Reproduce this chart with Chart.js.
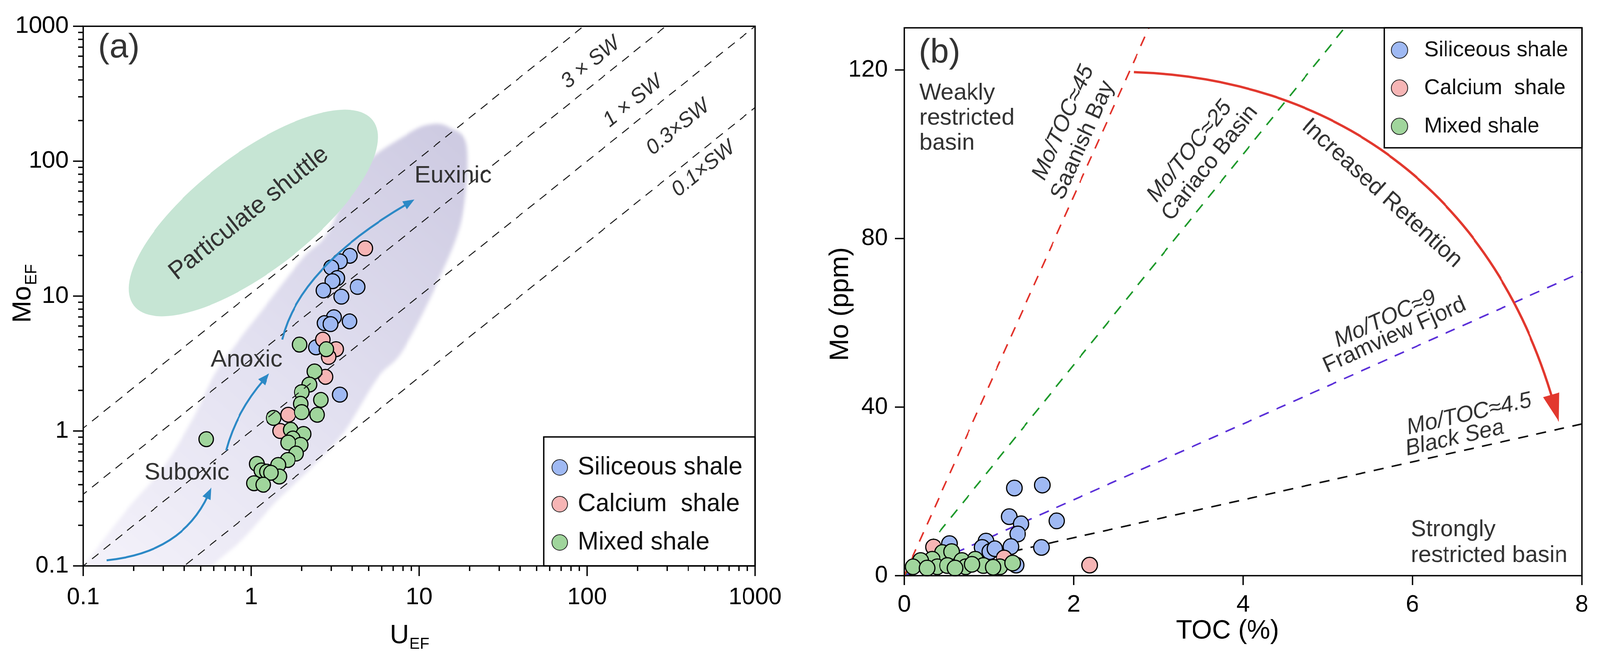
<!DOCTYPE html>
<html>
<head>
<meta charset="utf-8">
<script src="https://cdn.jsdelivr.net/npm/chart.js@4.4.1/dist/chart.umd.min.js"></script>
<style>
  html, body { margin: 0; padding: 0; background: #fff; overflow: hidden; }
  #page { position: absolute; left: 0; top: 0; width: 4153px; height: 1699px; transform-origin: 0 0; }
  canvas { position: absolute; top: 0; }
  #chartA { left: 0; }
  #chartB { left: 2076px; }
</style>
</head>
<body>
<div id="page">
<canvas id="chartA" width="2076" height="1699"></canvas>
<canvas id="chartB" width="2077" height="1699"></canvas>
</div>
<script>
// fit the 4153x1699 figure into whatever viewport we get
const page = document.getElementById('page');
page.style.transform = 'scale(' + (window.innerWidth / 4153) + ',' + (window.innerHeight / 1699) + ')';

// ---------- data: panel (a) U_EF vs Mo_EF ----------
const uefSiliceous = [3.87, 3.37, 3.0, 3.25, 3.05, 2.69, 3.44, 4.3, 3.11, 2.73, 2.97, 3.85, 2.43, 3.37];
const moefSiliceous = [19.9, 18.1, 16.3, 13.6, 12.9, 11.0, 9.9, 11.7, 6.97, 6.3, 6.2, 6.5, 4.17, 1.86];
const uefCalcium = [4.77, 2.67, 3.2, 2.89, 2.77, 1.66, 1.49];
const moefCalcium = [22.6, 4.76, 4.04, 3.54, 2.52, 1.32, 1.0];
const uefMixed = [1.94, 2.80, 2.38, 2.22, 2.0, 2.60, 1.97, 2.0, 2.47, 1.36, 1.72, 2.05, 1.77, 1.97, 1.66, 1.85, 1.65, 1.45, 1.47, 1.08, 1.15, 1.24, 1.31, 1.04, 1.18, 0.54];
const moefMixed = [4.37, 4.04, 2.76, 2.21, 1.94, 1.70, 1.59, 1.38, 1.32, 1.25, 1.02, 0.95, 0.88, 0.79, 0.82, 0.68, 0.61, 0.56, 0.46, 0.57, 0.51, 0.50, 0.49, 0.41, 0.40, 0.87];

// seawater Mo/U reference lines (Mo_EF = ratio * U_EF)
const swLabels = ['3 \u00d7 SW', '1 \u00d7 SW', '0.3\u00d7SW', '0.1\u00d7SW'];
const swRatios = [10.5, 3.4, 1.0, 0.25];

// ---------- data: panel (b) TOC vs Mo ----------
const tocSiliceous = [1.30, 1.63, 1.24, 1.38, 1.80, 1.34, 1.26, 1.62, 0.535, 0.965, 0.92, 1.01, 1.07, 1.32];
const moSiliceous = [20.8, 21.5, 14.0, 12.3, 13.0, 9.9, 6.9, 6.7, 7.6, 8.2, 6.7, 5.7, 6.4, 2.5];
const tocCalcium = [0.345, 1.18, 2.19];
const moCalcium = [6.8, 4.2, 2.5];
const tocMixed = [0.45, 0.56, 0.33, 0.195, 0.104, 0.39, 0.51, 0.68, 0.725, 0.84, 0.935, 1.13, 1.28, 0.27, 0.80, 0.60, 1.05];
const moMixed = [5.5, 5.7, 3.9, 3.6, 2.1, 2.1, 2.4, 3.6, 2.1, 3.9, 2.4, 2.1, 3.0, 1.8, 2.7, 1.8, 2.0];

// Mo/TOC reference lines
const tocLineNames = ['Saanish Bay', 'Cariaco Basin', 'Framview Fjord', 'Black Sea'];
const tocRatios = [45, 25, 9, 4.5];
const tocLineColors = ['#e2332b', '#1f9a2c', '#5a2fd8', '#111111'];

// ---------- ticks ----------
const decadeTicks = [0.1, 1, 10, 100, 1000];
const minorTicks = decadeTicks.slice(0, -1).flatMap(d => [2, 3, 4, 5, 6, 7, 8, 9].map(k => k * d));
const tocTicks = [0, 2, 4, 6, 8];
const moTicks = [0, 40, 80, 120];

const seriesNames = ['Siliceous shale', 'Calcium  shale', 'Mixed shale'];
const seriesColors = ['#9fb9f3', '#f6b5b5', '#a0d59c'];

const FONT = "'Liberation Sans', Arial, sans-serif";
Chart.defaults.font.family = FONT;
Chart.defaults.color = '#000';
Chart.defaults.animation = false;

const toPoints = (xs, ys) => xs.map((x, i) => ({ x: x, y: ys[i] }));

function pointSet(xs, ys, idx, radius, order) {
    return {
        label: seriesNames[idx],
        data: toPoints(xs, ys),
        backgroundColor: seriesColors[idx],
        borderColor: '#000',
        borderWidth: 3,
        pointRadius: radius,
        pointHoverRadius: radius,
        clip: false,
        order: order
    };
}

// Helper: pixel position of a data point
function px(chart, x, y) {
    return [chart.scales.x.getPixelForValue(x), chart.scales.y.getPixelForValue(y)];
}

function drawText(ctx, str, x, y, size, opts = {}) {
    ctx.save();
    ctx.translate(x, y);
    if (opts.angle) ctx.rotate(opts.angle * Math.PI / 180);
    ctx.font = (opts.italic ? 'italic ' : '') + size + 'px ' + FONT;
    ctx.fillStyle = opts.color || '#333';
    ctx.textAlign = opts.align || 'center';
    ctx.textBaseline = 'middle';
    ctx.fillText(str, 0, 0);
    ctx.restore();
}

// main text with a subscript, centred on (x, y)
function drawSubText(ctx, main, sub, x, y, size, subSize, angle) {
    ctx.save();
    ctx.translate(x, y);
    ctx.rotate(angle * Math.PI / 180);
    ctx.fillStyle = '#000';
    ctx.textBaseline = 'alphabetic';
    ctx.textAlign = 'left';
    ctx.font = size + 'px ' + FONT;
    const w1 = ctx.measureText(main).width;
    ctx.font = subSize + 'px ' + FONT;
    const w2 = ctx.measureText(sub).width;
    const x0 = -(w1 + w2) / 2;
    ctx.font = size + 'px ' + FONT;
    ctx.fillText(main, x0, size * 0.36);
    ctx.font = subSize + 'px ' + FONT;
    ctx.fillText(sub, x0 + w1 + 2, size * 0.36 + subSize * 0.35);
    ctx.restore();
}

// bezier arrow, pts are pixel points [p0, c1, (c2,) p3]
function drawArrow(ctx, pts, color, width, headLen, headW) {
    const end = pts[pts.length - 1], prev = pts[pts.length - 2];
    const ang = Math.atan2(end[1] - prev[1], end[0] - prev[0]);
    const back = headLen * 0.7;
    const dx = Math.cos(ang) * back, dy = Math.sin(ang) * back;
    const p = pts.map(q => q.slice());
    p[p.length - 1] = [end[0] - dx, end[1] - dy];
    p[p.length - 2] = [prev[0] - dx, prev[1] - dy];
    ctx.save();
    ctx.strokeStyle = color;
    ctx.fillStyle = color;
    ctx.lineWidth = width;
    ctx.beginPath();
    ctx.moveTo(p[0][0], p[0][1]);
    if (p.length === 3) ctx.quadraticCurveTo(p[1][0], p[1][1], p[2][0], p[2][1]);
    else ctx.bezierCurveTo(p[1][0], p[1][1], p[2][0], p[2][1], p[3][0], p[3][1]);
    ctx.stroke();
    ctx.beginPath();
    ctx.moveTo(end[0], end[1]);
    ctx.lineTo(end[0] - Math.cos(ang) * headLen + Math.sin(ang) * headW / 2, end[1] - Math.sin(ang) * headLen - Math.cos(ang) * headW / 2);
    ctx.lineTo(end[0] - Math.cos(ang) * headLen - Math.sin(ang) * headW / 2, end[1] - Math.sin(ang) * headLen + Math.cos(ang) * headW / 2);
    ctx.closePath();
    ctx.fill();
    ctx.restore();
}

function smoothClosed(ctx, pts) {
    const n = pts.length;
    ctx.moveTo(pts[0][0], pts[0][1]);
    for (let i = 0; i < n; i++) {
        const p0 = pts[(i - 1 + n) % n], p1 = pts[i], p2 = pts[(i + 1) % n], p3 = pts[(i + 2) % n];
        ctx.bezierCurveTo(p1[0] + (p2[0] - p0[0]) / 6, p1[1] + (p2[1] - p0[1]) / 6,
            p2[0] - (p3[0] - p1[0]) / 6, p2[1] - (p3[1] - p1[1]) / 6, p2[0], p2[1]);
    }
    ctx.closePath();
}

function drawLegend(chart, box, cx, tx, rows, radius, fontSize) {
    const ctx = chart.ctx;
    ctx.save();
    ctx.fillStyle = '#fff';
    ctx.fillRect(box[0], box[1], box[2], box[3]);
    ctx.strokeStyle = '#000';
    ctx.lineWidth = 3.5;
    ctx.strokeRect(box[0], box[1], box[2], box[3]);
    chart.data.datasets.filter(d => !d.isGuide).forEach((d, i) => {
        ctx.beginPath();
        ctx.arc(box[0] + cx, box[1] + rows[i], radius, 0, Math.PI * 2);
        ctx.fillStyle = d.backgroundColor;
        ctx.fill();
        ctx.lineWidth = 2;
        ctx.strokeStyle = '#222';
        ctx.stroke();
        drawText(ctx, d.label, box[0] + tx, box[1] + rows[i], fontSize, { align: 'left', color: '#111' });
    });
    ctx.restore();
}

// frame around plot + outward tick marks
const frameTicks = {
    id: 'frameTicks',
    afterDraw(chart, args, o) {
        const { ctx, chartArea: a } = chart;
        const xs = chart.scales.x, ys = chart.scales.y;
        ctx.save();
        ctx.strokeStyle = '#000';
        ctx.lineWidth = o.lineWidth;
        xs.ticks.forEach(t => {
            const p = xs.getPixelForValue(t.value);
            const len = o.xMajors.includes(t.value) ? o.major : o.minor;
            ctx.beginPath(); ctx.moveTo(p, a.bottom); ctx.lineTo(p, a.bottom + len); ctx.stroke();
        });
        ys.ticks.forEach(t => {
            const p = ys.getPixelForValue(t.value);
            const len = o.yMajors.includes(t.value) ? o.major : o.minor;
            ctx.beginPath(); ctx.moveTo(a.left, p); ctx.lineTo(a.left - len, p); ctx.stroke();
        });
        ctx.strokeRect(a.left, a.top, a.right - a.left, a.bottom - a.top);
        ctx.restore();
    }
};

// ---------- panel (a) decorations ----------
const purpleOutline = [[11.8, 188], [15.1, 178], [19.2, 129], [18.0, 38.5], [13.1, 13.3], [8.0, 3.96], [5.65, 2.47],
    [3.57, 0.98], [2.27, 0.53], [1.41, 0.30], [0.90, 0.16], [0.59, 0.1], [0.344, 0.048], [0.067, 0.055], [0.1, 0.1],
    [0.184, 0.266], [0.30, 0.54], [0.455, 1.27], [0.60, 2.58], [0.85, 4.76], [1.18, 8.05], [2.04, 19.3], [2.89, 30],
    [4.27, 84], [8.6, 160]];
const shuttleEllipse = { center: [1.03, 41.3], majorEnd: [5.3, 200], minorEnd: [1.67, 18.9] };

const decorA = {
    id: 'decorA',
    beforeDatasetsDraw(chart) {
        const { ctx, chartArea: a } = chart;
        ctx.save();
        ctx.beginPath();
        ctx.rect(a.left, a.top, a.right - a.left, a.bottom - a.top);
        ctx.clip();
        // redox field
        const g0 = px(chart, 0.1, 0.1), g1 = px(chart, 15, 150);
        const grad = ctx.createLinearGradient(g0[0], g0[1], g1[0], g1[1]);
        grad.addColorStop(0, '#f4f2fa');
        grad.addColorStop(0.5, '#e2e0f0');
        grad.addColorStop(1, '#cecbe2');
        ctx.filter = 'blur(5px)';
        ctx.beginPath();
        smoothClosed(ctx, purpleOutline.map(p => px(chart, p[0], p[1])));
        ctx.fillStyle = grad;
        ctx.fill();
        ctx.filter = 'none';
        // particulate shuttle field
        const c = px(chart, ...shuttleEllipse.center);
        const m = px(chart, ...shuttleEllipse.majorEnd);
        const n = px(chart, ...shuttleEllipse.minorEnd);
        ctx.beginPath();
        ctx.ellipse(c[0], c[1], Math.hypot(m[0] - c[0], m[1] - c[1]), Math.hypot(n[0] - c[0], n[1] - c[1]),
            Math.atan2(m[1] - c[1], m[0] - c[0]), 0, Math.PI * 2);
        ctx.fillStyle = '#c6e5d4';
        ctx.fill();
        ctx.restore();
        const tc = px(chart, 0.97, 41);
        drawText(ctx, 'Particulate shuttle', tc[0], tc[1], 64, { angle: -38.5 });
    },
    afterDatasetsDraw(chart) {
        const { ctx, chartArea: a } = chart;
        const blue = '#2c89c6';
        drawArrow(ctx, [px(chart, 0.138, 0.110), px(chart, 0.404, 0.142), px(chart, 0.58, 0.38)], blue, 5, 30, 24);
        drawArrow(ctx, [px(chart, 0.71, 0.72), px(chart, 0.88, 1.55), px(chart, 1.28, 2.67)], blue, 5, 30, 24);
        drawArrow(ctx, [px(chart, 1.53, 4.76), px(chart, 2.13, 17.5), px(chart, 9.38, 52)], blue, 5, 30, 24);
        let p = px(chart, 0.414, 0.49); drawText(ctx, 'Suboxic', p[0], p[1], 62);
        p = px(chart, 0.94, 3.36); drawText(ctx, 'Anoxic', p[0], p[1], 62);
        p = px(chart, 15.9, 78); drawText(ctx, 'Euxinic', p[0], p[1], 62);
        const swPos = [[105, 536], [187.5, 278], [348, 178], [493, 87.4]];
        swLabels.forEach((s, i) => {
            const q = px(chart, swPos[i][0], swPos[i][1]);
            drawText(ctx, s, q[0], q[1], 54, { italic: true, angle: -38.8 });
        });
        drawText(ctx, '(a)', a.left + 39, a.top + 56, 88, { align: 'left' });
        drawLegend(chart, [a.right - 549, a.bottom - 330, 549, 330], 42, 89, [78, 172, 270], 20, 64);
        // axis titles
        drawSubText(ctx, 'Mo', 'EF', 55, 752, 68, 42, -90);
        drawSubText(ctx, 'U', 'EF', 1062, 1622, 68, 40, 0);
    }
};

// ---------- panel (b) decorations ----------
const retentionArrow = [[2.71, 119.5], [5.0, 118], [7.0, 88], [7.73, 36.5]];
const tocLabelPos = [[1.88, 107.5, 2.11, 103.3, -65.9], [3.37, 100.7, 3.61, 97.9, -51.2],
    [5.68, 60.9, 5.79, 57.0, -24.1], [6.67, 38.3, 6.50, 32.6, -12.6]];

const decorB = {
    id: 'decorB',
    afterDatasetsDraw(chart) {
        const { ctx, chartArea: a } = chart;
        drawArrow(ctx, retentionArrow.map(q => px(chart, q[0], q[1])), '#e2382e', 6, 72, 44);
        let p = px(chart, 5.64, 90.7);
        drawText(ctx, 'Increased Retention', p[0], p[1], 60, { angle: 42 });
        tocLabelPos.forEach((q, i) => {
            const p1 = px(chart, q[0], q[1]), p2 = px(chart, q[2], q[3]);
            drawText(ctx, 'Mo/TOC\u2248' + tocRatios[i], p1[0], p1[1], 58, { italic: true, angle: q[4] });
            drawText(ctx, tocLineNames[i], p2[0], p2[1], 58, { italic: i === 3, angle: q[4] });
        });
        p = px(chart, 0.18, 114.5);
        ['Weakly', 'restricted', 'basin'].forEach((s, i) => drawText(ctx, s, p[0], p[1] + i * 64, 60, { align: 'left' }));
        p = px(chart, 5.98, 10.9);
        ['Strongly', 'restricted basin'].forEach((s, i) => drawText(ctx, s, p[0], p[1] + i * 66, 60, { align: 'left' }));
        drawText(ctx, '(b)', a.left + 38, a.top + 65, 88, { align: 'left' });
        drawLegend(chart, [a.right - 513, a.top, 513, 307], 40, 104, [57, 154, 252], 21, 56);
        drawText(ctx, 'Mo (ppm)', 106, 778, 68, { angle: -90, color: '#000' });
        drawText(ctx, 'TOC (%)', 1110, 1615, 68, { color: '#000' });
    }
};

const labelFont = { size: 62 };

new Chart(document.getElementById('chartA'), {
    type: 'scatter',
    data: {
        datasets: [
            pointSet(uefSiliceous, moefSiliceous, 0, 19, 3),
            pointSet(uefCalcium, moefCalcium, 1, 19, 2),
            pointSet(uefMixed, moefMixed, 2, 19, 1),
            ...swRatios.map((r, i) => ({
                type: 'line',
                label: swLabels[i],
                isGuide: true,
                data: [{ x: 0.01, y: 0.01 * r }, { x: 10000, y: 10000 * r }],
                borderColor: '#1a1a1a',
                borderWidth: 2.5,
                borderDash: [22, 17],
                pointRadius: 0,
                fill: false,
                order: -1
            }))
        ]
    },
    options: {
        responsive: false,
        devicePixelRatio: 1,
        layout: { padding: { left: 0, top: 50, right: 116, bottom: 0 } },
        plugins: {
            legend: { display: false },
            tooltip: { enabled: false },
            frameTicks: { lineWidth: 3.5, major: 26, minor: 13, xMajors: decadeTicks, yMajors: decadeTicks }
        },
        scales: {
            x: {
                type: 'logarithmic', min: 0.1, max: 1000,
                grid: { display: false }, border: { display: false },
                afterBuildTicks: s => { s.ticks = decadeTicks.concat(minorTicks).map(v => ({ value: v })); },
                afterFit: s => { s.height = 251; },
                ticks: {
                    autoSkip: false, maxRotation: 0, minRotation: 0, padding: 36, font: labelFont,
                    callback: v => decadeTicks.includes(v) ? String(v) : ''
                }
            },
            y: {
                type: 'logarithmic', min: 0.1, max: 1000,
                grid: { display: false }, border: { display: false },
                afterBuildTicks: s => { s.ticks = decadeTicks.concat(minorTicks).map(v => ({ value: v })); },
                afterFit: s => { s.width = 216; },
                ticks: {
                    autoSkip: false, padding: 30, font: labelFont,
                    callback: v => decadeTicks.includes(v) ? String(v) : ''
                }
            }
        }
    },
    plugins: [decorA, frameTicks]
});

new Chart(document.getElementById('chartB'), {
    type: 'scatter',
    data: {
        datasets: [
            pointSet(tocSiliceous, moSiliceous, 0, 20, 3),
            pointSet(tocCalcium, moCalcium, 1, 20, 2),
            pointSet(tocMixed, moMixed, 2, 20, 1),
            ...tocRatios.map((r, i) => ({
                type: 'line',
                label: tocLineNames[i],
                isGuide: true,
                data: [{ x: 0, y: 0 }, { x: 8, y: 8 * r }],
                borderColor: tocLineColors[i],
                borderWidth: 4,
                borderDash: [26, 22],
                pointRadius: 0,
                fill: false,
                order: 5
            }))
        ]
    },
    options: {
        responsive: false,
        devicePixelRatio: 1,
        layout: { padding: { left: 0, top: 55, right: 41, bottom: 0 } },
        plugins: {
            legend: { display: false },
            tooltip: { enabled: false },
            frameTicks: { lineWidth: 3.5, major: 24, minor: 24, xMajors: tocTicks, yMajors: moTicks }
        },
        scales: {
            x: {
                type: 'linear', min: 0, max: 8,
                grid: { display: false }, border: { display: false },
                afterBuildTicks: s => { s.ticks = tocTicks.map(v => ({ value: v })); },
                afterFit: s => { s.height = 226; },
                ticks: { autoSkip: false, maxRotation: 0, padding: 30, font: labelFont }
            },
            y: {
                type: 'linear', min: 0, max: 130,
                grid: { display: false }, border: { display: false },
                afterBuildTicks: s => { s.ticks = moTicks.map(v => ({ value: v })); },
                afterFit: s => { s.width = 271; },
                ticks: { autoSkip: false, padding: 34, font: labelFont }
            }
        }
    },
    plugins: [decorB, frameTicks]
});
</script>
</body>
</html>
